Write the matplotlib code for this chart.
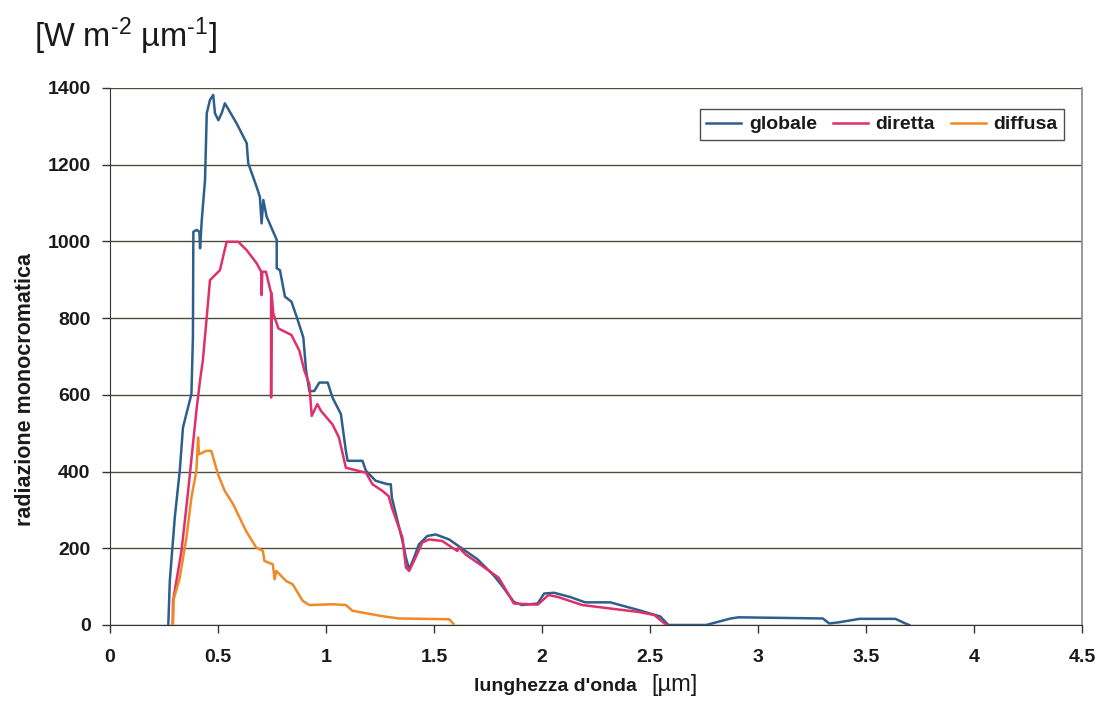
import matplotlib
matplotlib.use("Agg")
import matplotlib.pyplot as plt

plt.rcParams["font.family"] = ["Liberation Sans", "DejaVu Sans"]
plt.rcParams["mathtext.default"] = "regular"

# spectral irradiance [W m-2 um-1] vs wavelength [um]
globale_x = [0.27, 0.277, 0.30, 0.323, 0.338, 0.377, 0.384, 0.386, 0.401, 0.414, 0.417,
             0.425, 0.44, 0.448, 0.463, 0.478, 0.486, 0.502, 0.517, 0.532, 0.586, 0.633,
             0.64, 0.679, 0.694, 0.702, 0.71, 0.725, 0.772, 0.772, 0.787, 0.81, 0.84,
             0.864, 0.895, 0.908, 0.923, 0.946, 0.969, 1.008, 1.03, 1.069, 1.092, 1.10,
             1.169, 1.185, 1.23, 1.285, 1.30, 1.305, 1.354, 1.37, 1.385, 1.408, 1.43,
             1.469, 1.508, 1.57, 1.646, 1.70, 1.777, 1.814, 1.87, 1.907, 1.98, 2.01,
             2.056, 2.13, 2.20, 2.316, 2.446, 2.548, 2.585, 2.76, 2.874, 2.91, 3.30,
             3.33, 3.375, 3.47, 3.636, 3.69, 3.70]
globale_y = [0, 115, 280, 402, 515, 602, 750, 1025, 1030, 1025, 982,
             1056, 1160, 1334, 1369, 1382, 1334, 1316, 1334, 1360, 1308, 1256,
             1204, 1142, 1116, 1047, 1108, 1065, 1004, 930, 925, 856, 843,
             804, 750, 663, 610, 610, 632, 632, 593, 550, 454, 428,
             428, 402, 376, 367, 367, 332, 219, 176, 145, 176, 210,
             232, 236, 223, 193, 172, 129, 103, 60, 52, 56, 82,
             84, 73, 59, 59, 39, 22, 0, 0, 17, 20, 17,
             4, 7, 16, 16, 2, 0]

diretta_x = [0.29, 0.292, 0.331, 0.362, 0.40, 0.417, 0.43, 0.448, 0.463, 0.509, 0.54,
             0.594, 0.633, 0.679, 0.70, 0.702, 0.705, 0.722, 0.746, 0.746, 0.748, 0.756,
             0.78, 0.84, 0.877, 0.9, 0.923, 0.934, 0.96, 0.977, 1.03, 1.06, 1.092,
             1.185, 1.215, 1.26, 1.29, 1.305, 1.354, 1.37, 1.385, 1.415, 1.446, 1.477,
             1.538, 1.608, 1.615, 1.646, 1.723, 1.80, 1.87, 1.98, 2.03, 2.074, 2.186,
             2.316, 2.446, 2.52, 2.576]
diretta_y = [0, 63, 193, 350, 558, 638, 690, 803, 899, 925, 999,
             999, 977, 943, 921, 860, 921, 921, 865, 593, 865, 812,
             773, 756, 715, 663, 628, 545, 576, 558, 523, 489, 410,
             397, 367, 350, 336, 306, 228, 150, 141, 176, 215, 223,
             219, 193, 202, 184, 154, 123, 56, 53, 78, 73, 52,
             43, 34, 26, 0]

diffusa_x = [0.29, 0.292, 0.295, 0.323, 0.354, 0.377, 0.40, 0.408, 0.412, 0.446, 0.469,
             0.50, 0.531, 0.57, 0.63, 0.677, 0.708, 0.715, 0.754, 0.762, 0.77, 0.815,
             0.846, 0.892, 0.923, 1.03, 1.092, 1.123, 1.26, 1.338, 1.57, 1.59]
diffusa_y = [0, 0, 67, 123, 228, 332, 402, 489, 445, 454, 454,
             393, 350, 315, 245, 202, 193, 167, 158, 119, 141, 115,
             106, 63, 52, 54, 52, 37, 23, 17, 15, 3]

x_ticks = [0, 0.5, 1, 1.5, 2, 2.5, 3, 3.5, 4, 4.5]
x_tick_labels = ["0", "0.5", "1", "1.5", "2", "2.5", "3", "3.5", "4", "4.5"]
y_ticks = [0, 200, 400, 600, 800, 1000, 1200, 1400]

fig = plt.figure(figsize=(11.12, 7.05), dpi=100)
fig.patch.set_facecolor("white")
ax = fig.add_axes([0.0989, 0.1135, 0.8741, 0.7617])

for yv in y_ticks:
    ax.axhline(yv, color="#4d4d3c", linewidth=1.0, zorder=1)

ax.plot(globale_x, globale_y, color="#2e5f8c", linewidth=1.8, label="globale", zorder=3)
ax.plot(diretta_x, diretta_y, color="#e0306a", linewidth=1.8, label="diretta", zorder=4)
ax.plot(diffusa_x, diffusa_y, color="#f08a26", linewidth=1.8, label="diffusa", zorder=5)

ax.set_xlim(0, 4.5)
ax.set_ylim(0, 1400)
ax.set_xticks(x_ticks)
ax.set_xticklabels(x_tick_labels)
ax.set_yticks(y_ticks)
ax.tick_params(axis="both", direction="out", length=6, width=1, color="#333333",
               labelsize=14, pad=8)
ax.tick_params(axis="x", pad=11)
for lab in ax.get_xticklabels() + ax.get_yticklabels():
    lab.set_fontweight("bold")
    lab.set_color("#1a1a1a")

ax.spines["top"].set_visible(False)
ax.spines["left"].set_color("#333333")
ax.spines["bottom"].set_color("#333333")
ax.spines["right"].set_color("#888888")
ax.spines["right"].set_linewidth(1.2)

# axis titles placed as in the scanned original
fig.text(0.0225, 0.448, "radiazione monocromatica", rotation=90, fontsize=15.5,
         fontweight="bold", color="#1a1a1a", ha="center", va="center")

fig.text(0.573, 0.02, "lunghezza d'onda", fontsize=14, fontweight="bold",
         color="#1a1a1a", ha="right", va="baseline")
fig.text(0.586, 0.02, "[µm]", fontsize=17, color="#1a1a1a", ha="left", va="baseline")

fig.text(0.031, 0.948, "[W m$^{\u20102}$ µm$^{\u20101}$]", fontsize=23.5, color="#1a1a1a",
         ha="left", va="center")

leg = ax.legend(loc="upper right", bbox_to_anchor=(0.982, 0.961), ncol=3,
                frameon=True, fancybox=False, fontsize=14, handlelength=1.8,
                handletextpad=0.4, columnspacing=0.8, borderpad=0.35,
                borderaxespad=0)
leg.get_frame().set_edgecolor("#222222")
leg.get_frame().set_linewidth(1.0)
for t in leg.get_texts():
    t.set_fontweight("bold")
    t.set_color("#1a1a1a")

fig.savefig("out.png", dpi=100, facecolor="white")
